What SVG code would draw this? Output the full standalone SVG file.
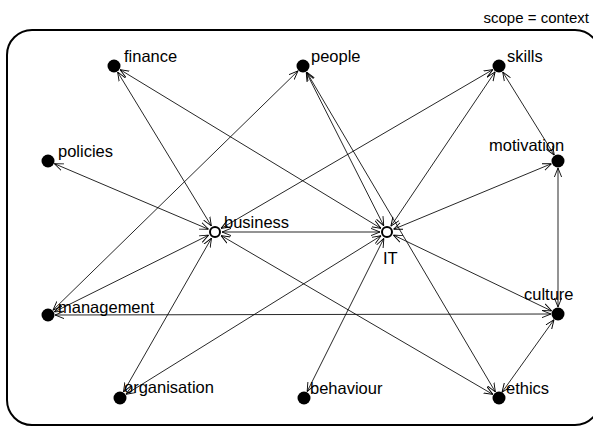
<svg xmlns="http://www.w3.org/2000/svg" width="593" height="426" viewBox="0 0 593 426">
<style>
.e{stroke:#000;stroke-width:0.85;fill:none;marker-start:url(#a);marker-end:url(#a)}
.d{fill:#000}
.h{fill:#fff;stroke:#000;stroke-width:2}
text{font-family:"Liberation Sans",Arial,sans-serif;font-size:16.5px;fill:#000}
</style>
<defs>
<marker id="a" viewBox="0 0 10 10" refX="10" refY="5" markerWidth="9" markerHeight="9" markerUnits="userSpaceOnUse" orient="auto-start-reverse">
<path d="M0,1 L10,5 L0,9" fill="none" stroke="#000" stroke-width="1"/>
</marker>
</defs>
<rect x="7" y="30" width="593" height="395" rx="25" ry="25" fill="none" stroke="#000" stroke-width="2"/>
<text x="589" y="23" text-anchor="end" style="font-size:15px">scope = context</text>
<g id="connectors">
<line class="e" x1="211.4" y1="226.0" x2="117.6" y2="72.0"/>
<line class="e" x1="381.0" y1="228.4" x2="120.0" y2="69.6"/>
<line class="e" x1="53.0" y1="310.1" x2="298.0" y2="70.9"/>
<line class="e" x1="208.6" y1="229.3" x2="54.4" y2="163.7"/>
<line class="e" x1="221.0" y1="228.5" x2="493.0" y2="69.5"/>
<line class="e" x1="390.9" y1="226.2" x2="495.1" y2="71.8"/>
<line class="e" x1="502.7" y1="72.0" x2="554.3" y2="155.1"/>
<line class="e" x1="393.5" y1="229.3" x2="551.5" y2="163.7"/>
<line class="e" x1="558" y1="307" x2="558" y2="168"/>
<line class="e" x1="306.2" y1="72.2" x2="383.8" y2="225.8"/>
<line class="e" x1="222" y1="232" x2="380" y2="232"/>
<line class="e" x1="54.3" y1="311.9" x2="208.7" y2="235.1"/>
<line class="e" x1="123.5" y1="391.9" x2="211.5" y2="238.1"/>
<line class="e" x1="125.9" y1="394.3" x2="381.1" y2="235.7"/>
<line class="e" x1="307.1" y1="391.7" x2="383.9" y2="238.3"/>
<line class="e" x1="221.0" y1="235.5" x2="493.0" y2="394.5"/>
<line class="e" x1="393.3" y1="235.0" x2="551.7" y2="311.0"/>
<line class="e" x1="55" y1="315" x2="551" y2="314"/>
<line class="e" x1="502.0" y1="392.3" x2="554.0" y2="319.7"/>
<line class="e" x1="306.6" y1="72.0" x2="495.4" y2="392.0"/>
</g>
<g id="finance"><circle class="d" cx="114" cy="66" r="6.5"/><text x="124" y="62">finance</text></g>
<g id="people"><circle class="d" cx="303" cy="66" r="6.5"/><text x="311" y="62">people</text></g>
<g id="skills"><circle class="d" cx="499" cy="66" r="6.5"/><text x="507" y="62">skills</text></g>
<g id="policies"><circle class="d" cx="48" cy="161" r="6.5"/><text x="58" y="157">policies</text></g>
<g id="motivation"><circle class="d" cx="558" cy="161" r="6.5"/><text x="489" y="151">motivation</text></g>
<g id="business"><circle class="h" cx="215" cy="232" r="5"/><text x="224" y="228">business</text></g>
<g id="IT"><circle class="h" cx="387" cy="232" r="5"/><text x="383" y="264">IT</text></g>
<g id="management"><circle class="d" cx="48" cy="315" r="6.5"/><text x="58" y="313">management</text></g>
<g id="culture"><circle class="d" cx="558" cy="314" r="6.5"/><text x="524" y="300">culture</text></g>
<g id="organisation"><circle class="d" cx="120" cy="398" r="6.5"/><text x="124" y="393">organisation</text></g>
<g id="behaviour"><circle class="d" cx="304" cy="398" r="6.5"/><text x="310" y="394">behaviour</text></g>
<g id="ethics"><circle class="d" cx="499" cy="398" r="6.5"/><text x="506" y="394">ethics</text></g>
</svg>
